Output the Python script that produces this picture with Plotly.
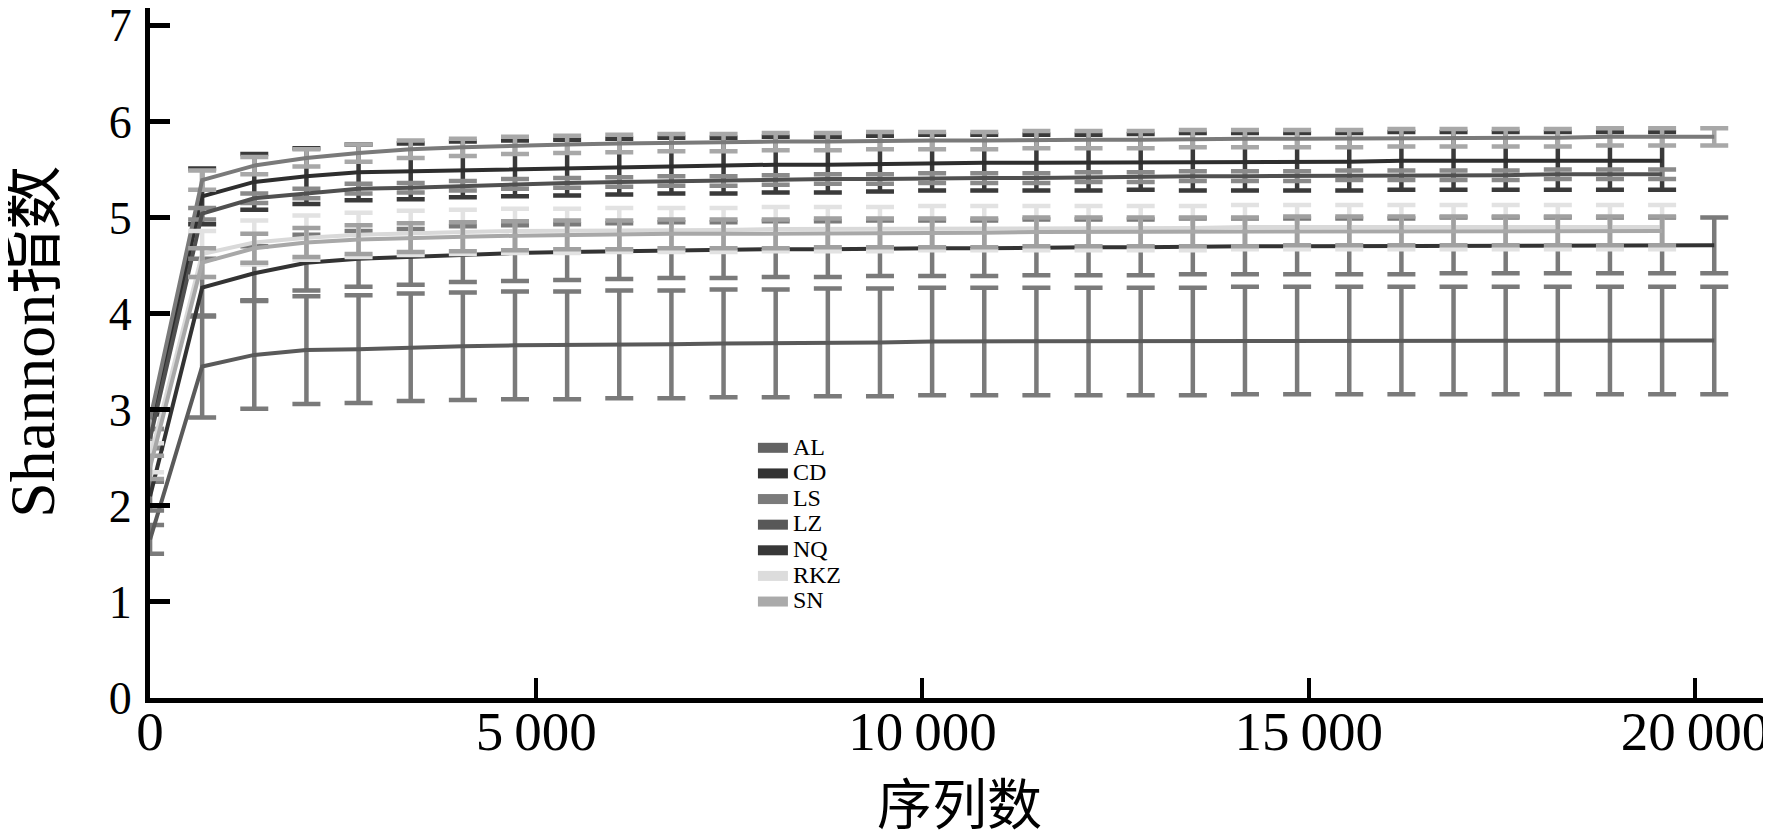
import plotly.graph_objects as go

# ---------------- data ----------------
# sequencing depth (序列数) at each rarefaction step
X_LONG = [1, 675, 1350, 2025, 2700, 3375, 4050, 4725, 5400, 6075, 6750, 7425, 8100,
          8775, 9450, 10125, 10800, 11475, 12150, 12825, 13500, 14175, 14850, 15525,
          16200, 16875, 17550, 18225, 18900, 19575, 20250]
X_SHORT = X_LONG[:30]

SERIES = ["AL", "CD", "LS", "LZ", "NQ", "RKZ", "SN"]

AL = [1.65, 3.45, 3.57, 3.62, 3.63, 3.65, 3.66, 3.67, 3.67, 3.68, 3.68, 3.69, 3.69, 3.70,
      3.70, 3.71, 3.71, 3.71, 3.71, 3.71, 3.71, 3.72, 3.72, 3.72, 3.72, 3.72, 3.72, 3.72,
      3.72, 3.72, 3.72]
AL_ERR = [0.15, 0.53, 0.56, 0.56, 0.56, 0.56, 0.56, 0.56, 0.56, 0.56, 0.56, 0.56, 0.56,
          0.56, 0.56, 0.56, 0.56, 0.56, 0.56, 0.56, 0.56, 0.56, 0.56, 0.56, 0.56, 0.56,
          0.56, 0.56, 0.56, 0.56, 0.56]

CD = [2.80, 5.22, 5.37, 5.43, 5.47, 5.48, 5.50, 5.51, 5.52, 5.53, 5.54, 5.54, 5.55, 5.55,
      5.56, 5.57, 5.57, 5.57, 5.57, 5.58, 5.58, 5.58, 5.58, 5.58, 5.59, 5.59, 5.59, 5.59,
      5.59, 5.59]
CD_ERR = [0.15, 0.29, 0.29, 0.29, 0.29, 0.29, 0.29, 0.29, 0.29, 0.29, 0.29, 0.29, 0.29,
          0.29, 0.29, 0.29, 0.29, 0.29, 0.29, 0.29, 0.30, 0.30, 0.30, 0.30, 0.30, 0.30,
          0.30, 0.30, 0.30, 0.30]

LS = [2.90, 5.39, 5.54, 5.62, 5.67, 5.71, 5.73, 5.75, 5.76, 5.77, 5.78, 5.78, 5.79, 5.79,
      5.80, 5.80, 5.80, 5.81, 5.81, 5.81, 5.82, 5.82, 5.82, 5.82, 5.83, 5.83, 5.83, 5.83,
      5.84, 5.84, 5.84]
LS_ERR = [0.10, 0.10, 0.09, 0.09, 0.09, 0.09, 0.09, 0.09, 0.09, 0.09, 0.09, 0.09, 0.09,
          0.09, 0.09, 0.09, 0.09, 0.09, 0.09, 0.09, 0.09, 0.09, 0.09, 0.09, 0.09, 0.09,
          0.09, 0.09, 0.09, 0.09, 0.09]

LZ = [2.70, 5.04, 5.20, 5.25, 5.30, 5.31, 5.33, 5.35, 5.36, 5.37, 5.38, 5.38, 5.39, 5.40,
      5.40, 5.41, 5.41, 5.41, 5.42, 5.42, 5.43, 5.43, 5.43, 5.44, 5.44, 5.44, 5.44, 5.45,
      5.45, 5.45]
LZ_ERR = [0.10, 0.06, 0.05, 0.05, 0.05, 0.05, 0.05, 0.05, 0.05, 0.05, 0.05, 0.05, 0.05,
          0.05, 0.05, 0.05, 0.05, 0.05, 0.05, 0.05, 0.05, 0.05, 0.05, 0.05, 0.05, 0.05,
          0.05, 0.05, 0.05, 0.05]

NQ = [2.10, 4.27, 4.42, 4.53, 4.57, 4.59, 4.62, 4.63, 4.64, 4.65, 4.66, 4.66, 4.67, 4.67,
      4.68, 4.68, 4.68, 4.69, 4.69, 4.69, 4.70, 4.70, 4.70, 4.70, 4.70, 4.71, 4.71, 4.71,
      4.71, 4.71, 4.71]
NQ_ERR = [0.15, 0.30, 0.28, 0.29, 0.29, 0.29, 0.29, 0.29, 0.29, 0.29, 0.29, 0.29, 0.29,
          0.29, 0.29, 0.29, 0.29, 0.29, 0.29, 0.29, 0.29, 0.29, 0.29, 0.29, 0.29, 0.29,
          0.29, 0.29, 0.29, 0.29, 0.29]

RKZ = [2.50, 4.62, 4.74, 4.79, 4.82, 4.84, 4.85, 4.86, 4.86, 4.87, 4.87, 4.87, 4.88, 4.88,
       4.88, 4.89, 4.89, 4.89, 4.89, 4.89, 4.89, 4.90, 4.90, 4.90, 4.90, 4.90, 4.90, 4.90,
       4.90, 4.90]
RKZ_ERR = [0.15, 0.24, 0.23, 0.23, 0.23, 0.23, 0.23, 0.23, 0.23, 0.23, 0.23, 0.23, 0.23,
           0.23, 0.23, 0.23, 0.23, 0.23, 0.23, 0.23, 0.23, 0.23, 0.23, 0.23, 0.23, 0.23,
           0.23, 0.23, 0.23, 0.23]

SN = [2.40, 4.53, 4.68, 4.74, 4.77, 4.79, 4.80, 4.81, 4.82, 4.82, 4.83, 4.83, 4.83, 4.84,
      4.84, 4.84, 4.84, 4.85, 4.85, 4.85, 4.85, 4.85, 4.86, 4.86, 4.86, 4.86, 4.86, 4.86,
      4.86, 4.86]
SN_ERR = [0.12, 0.15, 0.15, 0.15, 0.15, 0.15, 0.15, 0.15, 0.15, 0.15, 0.15, 0.15, 0.15,
          0.15, 0.15, 0.15, 0.15, 0.15, 0.15, 0.15, 0.15, 0.15, 0.15, 0.15, 0.15, 0.15,
          0.15, 0.15, 0.15, 0.15]

X_TICKS = [0, 5000, 10000, 15000, 20000]
X_TICK_TEXT = ["0", "5\u2009000", "10\u2009000", "15\u2009000", "20\u2009000"]
Y_TICKS = [0, 1, 2, 3, 4, 5, 6, 7]

# ---------------- styles ----------------
LINE_COLORS = {"AL": "#5a5a5a", "CD": "#2e2e2e", "LS": "#7a7a7a", "LZ": "#505050",
               "NQ": "#333333", "RKZ": "#d9d9d9", "SN": "#a8a8a8"}
ERR_COLORS = {"AL": "#7a7a7a", "CD": "#3a3a3a", "LS": "#a8a8a8", "LZ": "#8a8a8a",
              "NQ": "#7a7a7a", "RKZ": "#e2e2e2", "SN": "#a0a0a0"}
LEGEND_COLORS = {"AL": "#636363", "CD": "#333333", "LS": "#7b7b7b", "LZ": "#585858",
                 "NQ": "#383838", "RKZ": "#dcdcdc", "SN": "#aaaaaa"}

DATA = {
    "AL": (X_LONG, AL, AL_ERR),
    "CD": (X_SHORT, CD, CD_ERR),
    "LS": (X_LONG, LS, LS_ERR),
    "LZ": (X_SHORT, LZ, LZ_ERR),
    "NQ": (X_LONG, NQ, NQ_ERR),
    "RKZ": (X_SHORT, RKZ, RKZ_ERR),
    "SN": (X_SHORT, SN, SN_ERR),
}

FONT = "Liberation Serif, Noto Sans CJK SC, serif"

fig = go.Figure()
for name in SERIES:
    xs, ys, es = DATA[name]
    fig.add_trace(go.Scatter(
        x=xs, y=ys, mode="lines", name=name, showlegend=False,
        line=dict(color=LINE_COLORS[name], width=4),
        error_y=dict(type="data", array=es, visible=True, color=ERR_COLORS[name],
                     thickness=4.5, width=14),
        hoverinfo="skip",
    ))
# legend entries (thick swatches)
for name in SERIES:
    fig.add_trace(go.Scatter(
        x=[None], y=[None], mode="lines",
        name='<span style="font-size:24px">%s</span>' % name, showlegend=True,
        line=dict(color=LEGEND_COLORS[name], width=10),
    ))

# the page body adds an 8 px offset, so the figure is 8 px smaller than the window
fig.update_layout(
    template="none",
    width=1763, height=823,
    margin=dict(l=142, r=5, t=0, b=133),
    paper_bgcolor="white", plot_bgcolor="white",
    font=dict(family=FONT, color="black"),
    showlegend=True,
    legend=dict(x=0.3731, y=0.3884, xanchor="left", yanchor="top",
                font=dict(family=FONT, size=17.4, color="black"),
                bgcolor="rgba(0,0,0,0)", borderwidth=0, tracegroupgap=0, itemwidth=30),
    xaxis=dict(range=[0, 20920], tickvals=X_TICKS, ticktext=X_TICK_TEXT, automargin=False,
               showgrid=False, zeroline=False, showline=True, linecolor="black",
               linewidth=5, ticks="inside", ticklen=20, tickwidth=4, tickcolor="black",
               tickfont=dict(family=FONT, size=55), ticklabelstandoff=-19,
               ticklabeloverflow="allow"),
    yaxis=dict(range=[0, 7.18], tickvals=Y_TICKS, automargin=False,
               showgrid=False, zeroline=False, showline=True, linecolor="black",
               linewidth=5, ticks="inside", ticklen=20, tickwidth=5, tickcolor="black",
               tickfont=dict(family=FONT, size=46), ticklabelstandoff=4,
               ticklabeloverflow="allow"),
    annotations=[
        dict(text="Shannon指数", xref="paper", yref="paper",
             x=-0.0725, y=0.516, xanchor="center", yanchor="middle",
             textangle=-90, showarrow=False,
             font=dict(family=FONT, size=64, color="black")),
        dict(text="序列数", xref="paper", yref="paper",
             x=0.5012, y=-0.1565, xanchor="center", yanchor="middle",
             showarrow=False, font=dict(family=FONT, size=55, color="black")),
    ],
)

fig.write_html("out.html")
